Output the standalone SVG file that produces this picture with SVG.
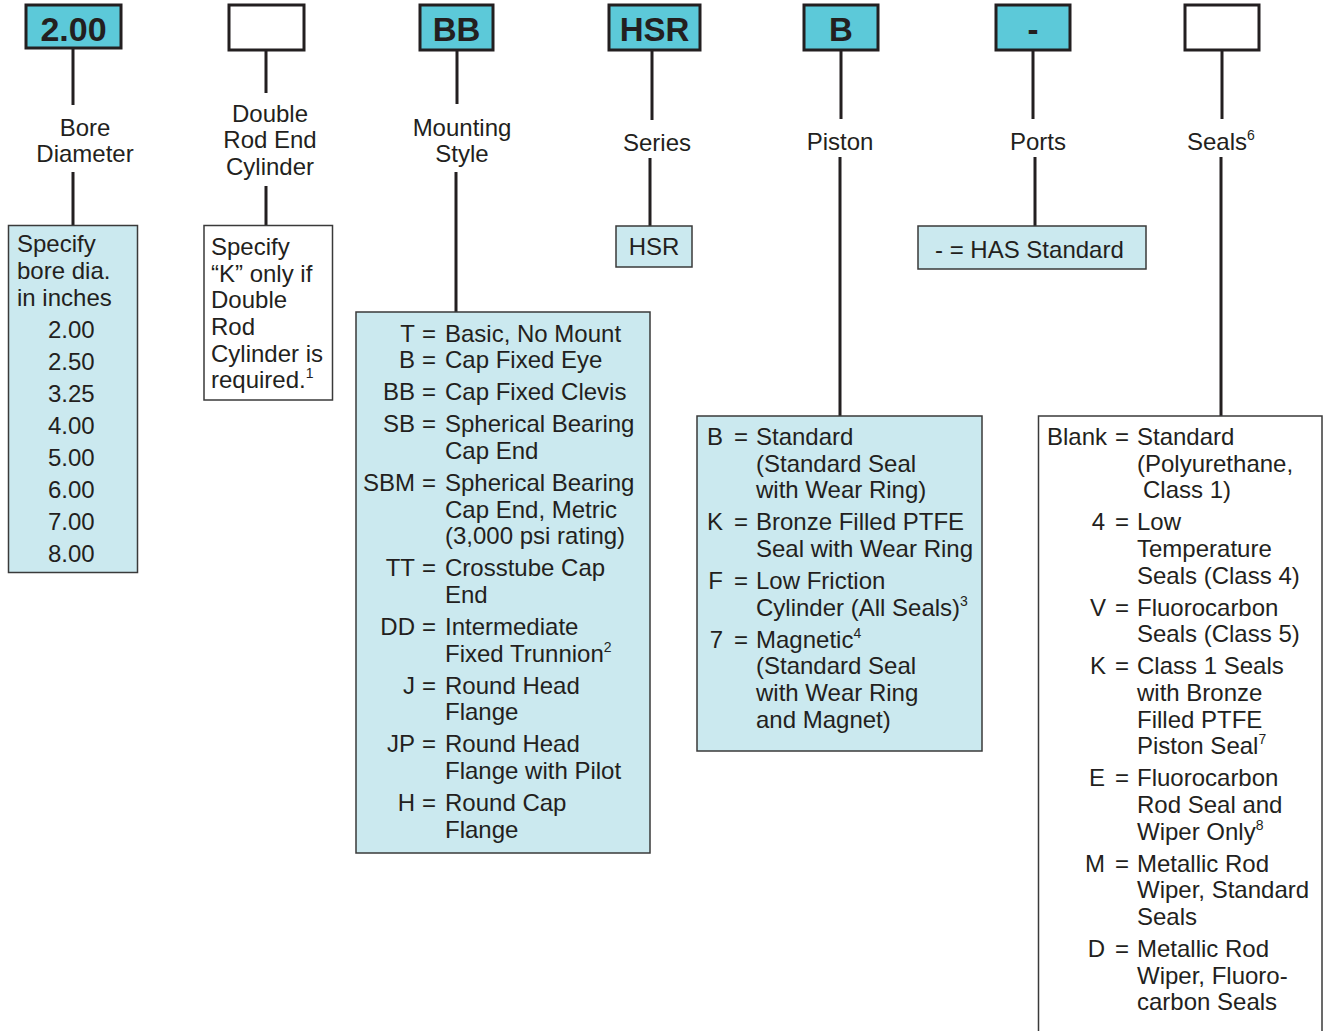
<svg xmlns="http://www.w3.org/2000/svg" width="1323" height="1031" viewBox="0 0 1323 1031">
<style>
text{font-family:"Liberation Sans",Arial,sans-serif;fill:#231f20;font-size:24px}
.code{font-weight:bold;font-size:33px;text-anchor:middle}
.lbl{text-anchor:middle}
.r{text-anchor:end}
.sup{font-size:14px}
.top{stroke:#231f20;stroke-width:3}
.dark{fill:#5cc9d9}
.white{fill:#ffffff}
.box{stroke:#3a3a3a;stroke-width:1.5}
.light{fill:#cbe9ef}
.c{stroke:#231f20;stroke-width:3;fill:none}
</style>
<g id="connectors">
<path class="c" d="M73,48V105M73,172V225M266,50V93M266,186V225M457,50V104M456,172V312M652,50V120M650,158V226M841,50V119M840,157V416M1033,50V119M1035,157V226M1222,50V119M1221,157V416"/>
</g>
<g id="n-bore">
<rect class="top dark" x="26" y="5" width="95" height="43"/>
<text class="code" x="73.5" y="41" style="font-size:34px">2.00</text>
<text class="lbl" x="85" y="136">Bore</text>
<text class="lbl" x="85" y="162">Diameter</text>
<rect class="box light" x="8.5" y="225.5" width="129" height="347"/>
<text x="17" y="252">Specify</text>
<text x="17" y="279">bore dia.</text>
<text x="17" y="306">in inches</text>
<text x="48" y="338">2.00</text>
<text x="48" y="370">2.50</text>
<text x="48" y="402">3.25</text>
<text x="48" y="434">4.00</text>
<text x="48" y="466">5.00</text>
<text x="48" y="498">6.00</text>
<text x="48" y="530">7.00</text>
<text x="48" y="562">8.00</text>
</g>
<g id="n-double">
<rect class="top white" x="229" y="5" width="75" height="45"/>
<text class="lbl" x="270" y="122">Double</text>
<text class="lbl" x="270" y="148">Rod End</text>
<text class="lbl" x="270" y="175">Cylinder</text>
<rect class="box white" x="204" y="225.5" width="128.5" height="174.5"/>
<text x="211" y="255">Specify</text>
<text x="211" y="282">“K” only if</text>
<text x="211" y="308">Double</text>
<text x="211" y="335">Rod</text>
<text x="211" y="362">Cylinder is</text>
<text x="211" y="388">required.<tspan class="sup" dy="-10">1</tspan></text>
</g>
<g id="n-mount">
<rect class="top dark" x="420" y="5" width="73" height="45"/>
<text class="code" x="456.5" y="41">BB</text>
<text class="lbl" x="462" y="136">Mounting</text>
<text class="lbl" x="462" y="162">Style</text>
<rect class="box light" x="356" y="312" width="294" height="541"/>
<g class="r">
<text x="415" y="342">T</text>
<text x="415" y="368">B</text>
<text x="415" y="400">BB</text>
<text x="415" y="432">SB</text>
<text x="415" y="491">SBM</text>
<text x="415" y="576">TT</text>
<text x="415" y="635">DD</text>
<text x="415" y="694">J</text>
<text x="415" y="752">JP</text>
<text x="415" y="811">H</text>
</g>
<text x="422" y="342">=</text>
<text x="422" y="368">=</text>
<text x="422" y="400">=</text>
<text x="422" y="432">=</text>
<text x="422" y="491">=</text>
<text x="422" y="576">=</text>
<text x="422" y="635">=</text>
<text x="422" y="694">=</text>
<text x="422" y="752">=</text>
<text x="422" y="811">=</text>
<text x="445" y="342">Basic, No Mount</text>
<text x="445" y="368">Cap Fixed Eye</text>
<text x="445" y="400">Cap Fixed Clevis</text>
<text x="445" y="432">Spherical Bearing</text>
<text x="445" y="459">Cap End</text>
<text x="445" y="491">Spherical Bearing</text>
<text x="445" y="518">Cap End, Metric</text>
<text x="445" y="544">(3,000 psi rating)</text>
<text x="445" y="576">Crosstube Cap</text>
<text x="445" y="603">End</text>
<text x="445" y="635">Intermediate</text>
<text x="445" y="662">Fixed Trunnion<tspan class="sup" dy="-10">2</tspan></text>
<text x="445" y="694">Round Head</text>
<text x="445" y="720">Flange</text>
<text x="445" y="752">Round Head</text>
<text x="445" y="779">Flange with Pilot</text>
<text x="445" y="811">Round Cap</text>
<text x="445" y="838">Flange</text>
</g>
<g id="n-series">
<rect class="top dark" x="609" y="5" width="91" height="45"/>
<text class="code" x="654.5" y="41">HSR</text>
<text class="lbl" x="657" y="151">Series</text>
<rect class="box light" x="616" y="226" width="76" height="41"/>
<text class="lbl" x="654" y="255">HSR</text>
</g>
<g id="n-piston">
<rect class="top dark" x="804" y="5" width="74" height="45"/>
<text class="code" x="841" y="41">B</text>
<text class="lbl" x="840" y="150">Piston</text>
<rect class="box light" x="697" y="416" width="285" height="335"/>
<g class="r">
<text x="723" y="445">B</text>
<text x="723" y="530">K</text>
<text x="723" y="589">F</text>
<text x="723" y="648">7</text>
</g>
<text x="734" y="445">=</text>
<text x="734" y="530">=</text>
<text x="734" y="589">=</text>
<text x="734" y="648">=</text>
<text x="756" y="445">Standard</text>
<text x="756" y="472">(Standard Seal</text>
<text x="756" y="498">with Wear Ring)</text>
<text x="756" y="530">Bronze Filled PTFE</text>
<text x="756" y="557">Seal with Wear Ring</text>
<text x="756" y="589">Low Friction</text>
<text x="756" y="616">Cylinder (All Seals)<tspan class="sup" dy="-10">3</tspan></text>
<text x="756" y="648">Magnetic<tspan class="sup" dy="-10">4</tspan></text>
<text x="756" y="674">(Standard Seal</text>
<text x="756" y="701">with Wear Ring</text>
<text x="756" y="728">and Magnet)</text>
</g>
<g id="n-ports">
<rect class="top dark" x="996" y="5" width="74" height="45"/>
<text class="code" x="1033" y="41">-</text>
<text class="lbl" x="1038" y="150">Ports</text>
<rect class="box light" x="918" y="226" width="228" height="43"/>
<text x="935" y="258">- = HAS Standard</text>
</g>
<g id="n-seals">
<rect class="top white" x="1185" y="5" width="74" height="45"/>
<text x="1187" y="150">Seals<tspan class="sup" dy="-10">6</tspan></text>
<rect class="box white" x="1038.5" y="416" width="283.5" height="630"/>
<g class="r">
<text x="1107" y="445">Blank</text>
<text x="1105" y="530">4</text>
<text x="1106" y="616">V</text>
<text x="1106" y="674">K</text>
<text x="1105" y="786">E</text>
<text x="1105" y="872">M</text>
<text x="1105" y="957">D</text>
</g>
<text x="1115" y="445">=</text>
<text x="1115" y="530">=</text>
<text x="1115" y="616">=</text>
<text x="1115" y="674">=</text>
<text x="1115" y="786">=</text>
<text x="1115" y="872">=</text>
<text x="1115" y="957">=</text>
<text x="1137" y="445">Standard</text>
<text x="1137" y="472">(Polyurethane,</text>
<text x="1143" y="498">Class 1)</text>
<text x="1137" y="530">Low</text>
<text x="1137" y="557">Temperature</text>
<text x="1137" y="584">Seals (Class 4)</text>
<text x="1137" y="616">Fluorocarbon</text>
<text x="1137" y="642">Seals (Class 5)</text>
<text x="1137" y="674">Class 1 Seals</text>
<text x="1137" y="701">with Bronze</text>
<text x="1137" y="728">Filled PTFE</text>
<text x="1137" y="754">Piston Seal<tspan class="sup" dy="-10">7</tspan></text>
<text x="1137" y="786">Fluorocarbon</text>
<text x="1137" y="813">Rod Seal and</text>
<text x="1137" y="840">Wiper Only<tspan class="sup" dy="-10">8</tspan></text>
<text x="1137" y="872">Metallic Rod</text>
<text x="1137" y="898">Wiper, Standard</text>
<text x="1137" y="925">Seals</text>
<text x="1137" y="957">Metallic Rod</text>
<text x="1137" y="984">Wiper, Fluoro-</text>
<text x="1137" y="1010">carbon Seals</text>
</g>
</svg>
